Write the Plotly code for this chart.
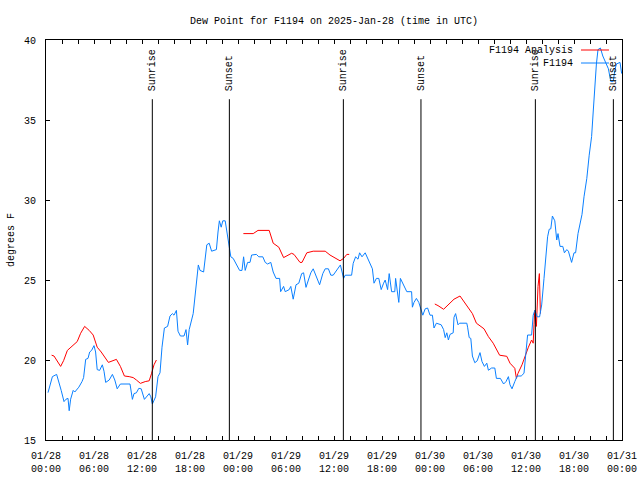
import pandas as pd
import plotly.graph_objects as go

START = pd.Timestamp("2025-01-28 00:00")

# F1194 observations: hours after 01/28 00:00 UTC, dew point (F)
obs_hours = [0.25, 0.58, 0.8, 1.33, 1.6, 1.9, 2.25, 2.5, 2.75, 2.9, 3.08, 3.4, 3.6, 4.1, 4.5, 4.7,
             4.96, 5.25, 5.46, 5.7, 6.0, 6.2, 6.4, 6.7, 7.04, 7.25, 7.46, 7.9, 8.3, 8.6, 8.9, 9.3,
             10.5, 10.8, 11.0, 11.3, 11.6, 11.9, 12.3, 12.9, 13.1, 13.3, 13.7, 14.0, 14.25, 14.5,
             14.8, 15.2, 15.5, 15.8, 16.0, 16.3, 16.5, 16.8, 17.25, 17.5, 17.7, 17.9, 18.4, 18.6,
             19.04, 19.25, 19.7, 20.1, 20.4, 20.7, 21.3, 21.5, 21.67, 21.9, 22.1, 22.4, 22.6, 22.9,
             23.1, 23.4, 23.75, 24.2, 24.5, 24.7, 24.9, 25.2, 25.5, 25.7, 26.3, 26.6, 27.1, 27.4,
             27.7, 28.1, 28.4, 28.75, 29.2, 29.33, 29.7, 29.9, 30.4, 30.6, 30.9, 31.25, 31.6, 31.96,
             32.2, 32.5, 32.8, 33.1, 33.4, 33.75, 34.2, 34.6, 34.9, 35.3, 35.6, 35.9, 36.3, 36.8,
             37.2, 37.4, 38.2, 38.4, 38.7, 39.0, 39.2, 39.5, 39.9, 40.2, 40.5, 40.8, 41.0, 41.3,
             41.6, 41.9, 42.2, 42.4, 42.7, 42.9, 43.2, 43.6, 43.7, 44.1, 44.3, 44.7, 45.1, 45.7,
             45.8, 46.0, 46.3, 46.6, 46.9, 47.1, 47.4, 47.7, 48.0, 48.3, 48.5, 48.8, 49.4, 49.7,
             49.9, 50.1, 50.3, 50.5, 50.9, 51.0, 51.2, 51.5, 51.7, 52.6, 52.7, 52.9, 53.1, 53.3,
             53.6, 53.9, 54.25, 54.5, 54.8, 55.1, 55.3, 55.7, 56.1, 56.3, 56.8, 57.2, 57.5, 57.8,
             58.0, 58.25, 58.6, 58.9, 59.4, 59.75, 59.96, 60.2, 60.7, 60.9, 61.1, 61.4, 61.7, 61.96,
             62.25, 62.5, 62.7, 62.9, 63.1, 63.3, 63.6, 63.84, 64.0, 64.25, 64.6, 64.8, 65.1, 65.3,
             65.5, 65.7, 66.0, 66.2, 66.5, 66.75, 67.0, 67.25, 67.6, 67.9, 68.2, 68.4, 68.6, 68.8,
             69.0, 69.3, 69.6, 70.0, 70.3, 70.6, 70.9, 71.1, 71.3, 71.75, 71.96]
obs_dewpt = [17.96, 18.65, 18.96, 19.1, 18.65, 18.1, 17.4, 17.55, 17.6, 16.83, 17.55, 18.1, 18.0, 18.3, 18.65, 18.9,
             20.04, 20.1, 20.5, 20.6, 20.9, 20.5, 19.4, 19.35, 19.7, 19.3, 18.6, 18.75, 19.1, 18.75, 18.2, 18.5,
             18.5, 17.54, 17.9, 17.95, 18.23, 18.2, 17.54, 17.9, 17.7, 17.25, 17.7, 18.96, 19.2, 20.8,
             22.0, 22.1, 22.75, 22.9, 22.8, 23.1, 21.8, 21.5, 21.5, 21.9, 20.94, 21.9, 22.9, 23.96,
             25.94, 25.6, 25.5, 27.2, 27.3, 26.8, 26.9, 28.0, 28.7, 28.3, 28.7, 28.7, 28.0, 27.1,
             26.45, 26.35, 26.04, 25.6, 25.6, 26.45, 25.6, 26.1, 26.1, 26.56, 26.6, 26.45, 26.45, 26.1,
             26.0, 26.1, 25.5, 25.1, 25.1, 24.27, 24.6, 24.27, 24.4, 24.6, 23.8, 24.7, 24.8, 25.4,
             25.45, 24.54, 25.0, 25.45, 25.7, 25.3, 24.7, 25.4, 25.7, 25.7, 25.3, 25.3, 25.6, 25.94,
             25.1, 25.3, 25.3, 26.04, 26.45, 26.3, 26.7, 26.45, 26.7, 26.35, 25.94, 25.7, 24.8, 25.1,
             25.1, 24.4, 24.8, 25.0, 24.4, 25.4, 24.27, 24.27, 25.1, 23.6, 25.1, 24.7, 24.27, 24.27,
             23.3, 23.6, 23.85, 23.6, 23.1, 22.8, 23.2, 23.25, 22.8, 22.8, 22.0, 22.3, 22.2, 21.9,
             21.4, 21.7, 21.25, 21.6, 21.7, 22.67, 22.9, 22.2, 22.3, 22.3, 22.05, 21.4, 21.35, 20.25,
             19.83, 19.95, 20.46, 19.9, 19.6, 19.8, 19.36, 19.5, 19.5, 18.85, 18.85, 18.5, 18.65, 18.96,
             18.45, 18.2, 18.65, 19.0, 19.0, 19.17, 20.3, 21.56, 21.56, 22.8, 23.1, 22.7, 22.7, 23.44,
             25.1, 26.67, 27.7, 28.17, 28.2, 29.0, 28.7, 27.5, 27.9, 27.1, 27.1, 26.7, 26.9, 26.8,
             26.5, 26.1, 26.7, 26.7, 27.9, 28.6, 29.1, 30.2, 31.35, 32.8, 33.96, 35.5, 37.1, 38.5,
             39.4, 39.5, 39.0, 38.5, 38.2, 37.4, 37.4, 38.1, 38.5, 38.6, 37.9]

# F1194 Analysis (None = gap)
ana_hours = [0.7, 1.0, 1.83, 2.2, 2.67, 3.1, 3.9, 4.33, 4.83, 5.4, 5.9, 6.4, 6.9, 7.8, 8.1, 8.8,
             9.3, 9.8, 10.4, 10.9, 11.3, 11.8, 12.4, 12.9, 13.2, 13.5, 13.8, None,
             24.67, 25.9, 26.5, 27.9, 28.4, 29.1, 29.7, 30.1, 30.7, 31.0, 31.75, 32.0, 32.6, 33.4,
             34.9, 35.5, 36.0, 36.75, 37.2, 37.6, 37.9, None,
             48.6, 49.0, 49.7, 50.5, 51.0, 51.75, 52.2, 52.7, 53.3, 53.8, 54.3, 54.75, 55.3, 55.9,
             56.7, 57.6, 58.0, 58.6, 58.8, 59.0, 59.5, 59.9, 60.3, 60.7, 60.9, 61.0, 61.1, 61.3,
             61.5, 61.67, 61.8]
ana_dewpt = [20.3, 20.25, 19.6, 19.96, 20.6, 20.8, 21.15, 21.67, 22.1, 21.85, 21.56, 20.8, 20.5, 19.85, 19.9, 20.04,
             19.6, 19.0, 18.96, 18.9, 18.75, 18.54, 18.65, 18.7, 19.17, 19.7, 20.0, None,
             27.9, 27.9, 28.1, 28.1, 27.3, 27.05, 26.4, 26.5, 26.67, 26.6, 26.1, 26.1, 26.7, 26.8,
             26.8, 26.56, 26.4, 26.2, 26.35, 26.6, 26.6, None,
             23.5, 23.4, 23.17, 23.6, 23.8, 24.0, 23.7, 23.3, 22.9, 22.3, 22.1, 21.95, 21.46, 21.05,
             20.3, 20.23, 19.8, 19.48, 18.85, 19.17, 19.7, 20.3, 20.8, 21.25, 21.05, 22.2, 23.1, 22.1,
             24.6, 25.4, 22.9]

# Sun events (hours after 01/28 00:00 UTC)
sun_hours = [13.29, 22.92, 37.17, 46.87, 61.17, 70.92]
sun_labels = ["Sunrise", "Sunset", "Sunrise", "Sunset", "Sunrise", "Sunset"]
sun_line_top = 36.3
sun_label_y = 36.75

tick_hours = [0, 6, 12, 18, 24, 30, 36, 42, 48, 54, 60, 66, 72]

FONT = "Liberation Mono, DejaVu Sans Mono, monospace"
RED = "#ff0000"
BLUE = "#0a80ff"


def to_time(hours):
    return [None if h is None else START + pd.Timedelta(hours=h) for h in hours]


fig = go.Figure()
fig.add_trace(go.Scatter(x=to_time(ana_hours), y=ana_dewpt, mode="lines",
                         name="F1194 Analysis", line=dict(color=RED, width=1),
                         connectgaps=False))
fig.add_trace(go.Scatter(x=to_time(obs_hours), y=obs_dewpt, mode="lines",
                         name="F1194", line=dict(color=BLUE, width=1)))

for h, lab in zip(sun_hours, sun_labels):
    t = START + pd.Timedelta(hours=h)
    fig.add_shape(type="line", x0=t, x1=t, y0=15, y1=sun_line_top, xref="x", yref="y",
                  line=dict(color="black", width=1))
    fig.add_annotation(x=t, y=sun_label_y, xref="x", yref="y", text=lab, textangle=-90,
                       showarrow=False, xanchor="center", yanchor="bottom",
                       font=dict(family=FONT, size=10, color="black"), borderpad=0)

# gnuplot-style legend: text left of sample
legend_items = [("F1194 Analysis", RED, 0.975), ("F1194", BLUE, 0.9425)]
for name, col, yp in legend_items:
    fig.add_annotation(x=0.9167, y=yp, xref="paper", yref="paper", text=name, showarrow=False,
                       xanchor="right", yanchor="middle", font=dict(family=FONT, size=10, color="black"),
                       borderpad=0)
    fig.add_shape(type="line", x0=0.9288, x1=0.9774, y0=yp, y1=yp, xref="paper", yref="paper",
                  line=dict(color=col, width=1))

tick_times = to_time(tick_hours)
fig.update_layout(
    width=640, height=480,
    margin=dict(l=46, r=18, t=40, b=40),
    paper_bgcolor="white", plot_bgcolor="white",
    showlegend=False,
    font=dict(family=FONT, size=10, color="black"),
    title=dict(text="Dew Point for F1194 on 2025-Jan-28 (time in UTC)", x=0.5, xref="paper",
               y=1 - 20 / 480, yref="container", xanchor="center", yanchor="middle",
               font=dict(family=FONT, size=10, color="black")),
    xaxis=dict(range=[START, START + pd.Timedelta(hours=72)], tickmode="array",
               tickvals=tick_times, ticktext=[t.strftime("%m/%d<br>%H:%M") for t in tick_times],
               ticks="inside", ticklen=4, tickcolor="black", mirror="ticks",
               showline=True, linecolor="black", linewidth=1, showgrid=False, zeroline=False,
               minor=dict(dtick=2 * 3600 * 1000, ticks="inside", ticklen=4, tickcolor="black",
                          showgrid=False),
               ticklabelstandoff=6, automargin=False,
               tickfont=dict(family=FONT, size=10)),
    yaxis=dict(range=[15, 40], dtick=5, tick0=15, ticks="inside", ticklen=4, tickcolor="black",
               mirror="ticks", showline=True, linecolor="black", linewidth=1, showgrid=False,
               zeroline=False, ticklabelstandoff=7, automargin=False,
               title=dict(text="degrees F", standoff=7, font=dict(family=FONT, size=10)),
               tickfont=dict(family=FONT, size=10)),
)

fig.write_html("out.html", config={"displayModeBar": False},
               post_script="document.body.style.margin='0px';document.body.style.overflow='hidden';")
